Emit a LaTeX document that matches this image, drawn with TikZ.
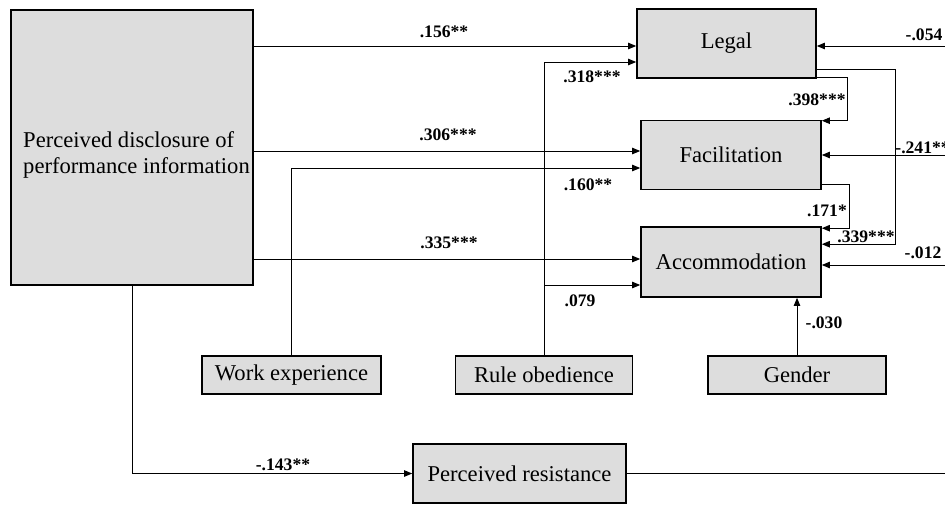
\documentclass[tikz,border=0pt]{standalone}
\usepackage{fontspec}
\setmainfont{Liberation Serif}
\usepackage{tikz}
\usetikzlibrary{arrows.meta,calc}
\definecolor{boxgray}{RGB}{221,221,221}

\begin{document}
\begin{tikzpicture}[x=0.5pt, y=-0.5pt,
        box/.style={draw, line width=0.8pt, fill=boxgray, inner sep=0pt, font=\fontsize{11.3}{13.2}\selectfont},
        arr/.style={line width=0.5pt, -{Triangle[length=4pt, width=3.2pt]}},
        wire/.style={line width=0.5pt},
        coef/.style={inner sep=0pt, font=\bfseries\fontsize{8.8}{10}\selectfont}]
        \useasboundingbox (0,0) rectangle (945,504);

        \node[box, minimum width=121pt, minimum height=137.5pt] (pd) at (132,147.5) {\hspace*{4.5pt}\raisebox{-6.6pt}[0pt][0pt]{\begin{tabular}{@{}l@{}}Perceived disclosure of\\performance information\end{tabular}}};
        \node[box, minimum width=89.5pt, minimum height=34.5pt] (legal) at (726.5,43.5) {Legal};
        \node[box, minimum width=90pt, minimum height=34.5pt] (facil) at (731,155) {Facilitation};
        \node[box, minimum width=90pt, minimum height=35pt] (accom) at (731,262) {Accommodation};
        \node[box, minimum width=89.5pt, minimum height=19pt] (work) at (291.5,375) {Work experience};
        \node[box, minimum width=88.5pt, minimum height=19pt] (rule) at (544,375) {Rule obedience};
        \node[box, minimum width=89pt, minimum height=19pt] (gender) at (797,375) {Gender};
        \node[box, minimum width=106.5pt, minimum height=29.5pt] (resist) at (519.5,473.5) {Perceived resistance};

        % arrow ends on the boxes
        \coordinate (lin1) at ($(legal.west)+(0,2.5)$);
        \coordinate (lin2) at ($(legal.west)+(0,18.5)$);
        \coordinate (fin1) at ($(facil.west)+(0,-4)$);
        \coordinate (fin2) at ($(facil.west)+(0,13)$);
        \coordinate (ain1) at ($(accom.west)+(0,-3)$);
        \coordinate (ain2) at ($(accom.west)+(0,23)$);
        % lines coming in from the right edge
        \coordinate (eL) at (945,46);
        \coordinate (eF) at (945,155);
        \coordinate (eA) at (945,265);
        \coordinate (eR) at (945,475);

        \draw[arr] (pd.east |- lin1) -- (lin1);
        \draw[arr] (rule.north) |- (lin2);
        \draw[arr] (pd.east |- fin1) -- (fin1);
        \draw[arr] (work.north) |- (fin2);
        \draw[arr] (pd.east |- ain1) -- (ain1);
        \draw[arr] (rule.north) |- (ain2);
        \draw[arr] (gender.north) -- (gender.north |- accom.south);
        \draw[arr] (pd.south) |- (resist.west);
        \draw[wire] (resist.east) -- (resist.east -| eR);

        \draw[arr] ($(legal.south east)+(0,-1)$) -- ++(31,0) |- ($(facil.north east)+(0,1)$);
        \draw[arr] ($(legal.east)+(0,25.5)$) -- ++(79,0) |- ($(accom.north east)+(0,18)$);
        \draw[arr] ($(facil.east)+(0,29)$) -- ++(28,0) |- ($(accom.north east)+(0,2)$);

        \draw[arr] (eL) -- (legal.east |- eL);
        \draw[arr] (eF) -- (facil.east |- eF);
        \draw[arr] (eA) -- (accom.east |- eA);

        % path coefficients
        \node[coef] (c156) at (444,32) {.156**};
        \node[coef] (c318) at (592,77) {.318***};
        \node[coef] (c306) at (448,135) {.306***};
        \node[coef] (c160) at (588,185) {.160**};
        \node[coef] (c335) at (449,243) {.335***};
        \node[coef] (c079) at (580,301) {.079};
        \node[coef] (c398) at (817,100) {.398***};
        \node[coef] (c171) at (827,211) {.171*};
        \node[coef] (c339) at (866,237) {.339***};
        \node[coef] (c054) at (924,35) {-.054};
        \node[coef, anchor=west] (c241) at (895,148) {-.241**};
        \node[coef] (c012) at (923,253) {-.012};
        \node[coef] (c030) at (824,323) {-.030};
        \node[coef] (c143) at (283,465) {-.143**};
\end{tikzpicture}
\end{document}
